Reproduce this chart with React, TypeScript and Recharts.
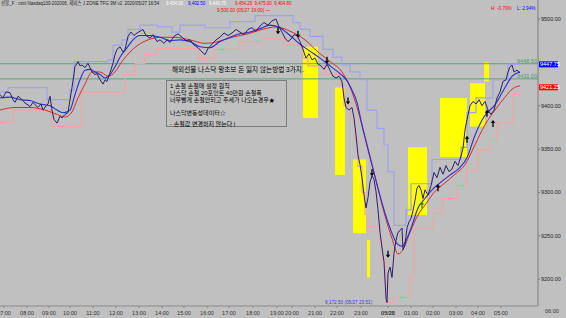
import React from "react";
import {
  ComposedChart,
  Line,
  Scatter,
  XAxis,
  YAxis,
  ReferenceArea,
  ReferenceLine,
} from "recharts";

// x = bar slot on the chart's time axis, p = price
const priceTrace: [number, number][] = [
  [0, 9413], [3, 9409], [6, 9416], [10, 9415], [13, 9407], [15, 9404], [18, 9411], [20, 9409],
  [23, 9406], [25, 9403], [28, 9401], [30, 9399], [33, 9404], [36, 9400], [38, 9398], [41, 9402],
  [43, 9395], [46, 9400], [48, 9402], [50, 9411], [52, 9395], [54, 9384], [57, 9380], [60, 9388],
  [62, 9386], [65, 9390], [68, 9392], [70, 9407], [72, 9421], [75, 9445], [78, 9451], [80, 9446],
  [82, 9447], [85, 9444], [88, 9449], [90, 9444], [92, 9439], [95, 9436], [97, 9437], [100, 9430],
  [103, 9425], [105, 9430], [107, 9428], [110, 9438], [113, 9449], [115, 9459], [117, 9465],
  [120, 9468], [123, 9462], [125, 9465], [128, 9480], [131, 9485], [134, 9481], [137, 9484],
  [140, 9486], [143, 9488], [146, 9481], [150, 9478], [153, 9482], [157, 9474], [160, 9476],
  [164, 9472], [167, 9476], [170, 9473], [174, 9480], [178, 9483], [182, 9479], [186, 9475],
  [190, 9476], [194, 9470], [198, 9467], [202, 9462], [205, 9459], [208, 9466], [212, 9471],
  [216, 9476], [220, 9479], [224, 9484], [228, 9481], [232, 9484], [236, 9488], [240, 9485],
  [244, 9482], [248, 9488], [252, 9490], [256, 9486], [260, 9492], [264, 9496], [268, 9493],
  [272, 9498], [276, 9500], [279, 9491], [282, 9485], [285, 9478], [288, 9474], [291, 9477],
  [294, 9482], [297, 9481], [300, 9474], [303, 9465], [306, 9455], [309, 9460], [312, 9453],
  [315, 9455], [318, 9448], [321, 9446], [324, 9442], [327, 9448], [330, 9441], [333, 9434],
  [336, 9432], [339, 9434], [342, 9428], [344, 9409], [346, 9398], [349, 9395], [352, 9398],
  [354, 9386], [356, 9366], [358, 9343], [360, 9332], [362, 9317], [364, 9297], [366, 9282],
  [368, 9294], [370, 9312], [372, 9319], [374, 9315], [376, 9301], [378, 9280], [380, 9254],
  [382, 9236], [384, 9220], [386, 9178], [387, 9173], [388, 9207], [390, 9214], [392, 9202],
  [394, 9230], [396, 9245], [398, 9254], [400, 9256], [402, 9259], [403, 9234], [405, 9240],
  [407, 9259], [409, 9266], [411, 9270], [413, 9279], [415, 9291], [417, 9305], [419, 9308],
  [421, 9303], [423, 9293], [425, 9303], [428, 9297], [431, 9308], [434, 9323], [437, 9317],
  [440, 9329], [443, 9321], [446, 9331], [449, 9324], [452, 9327], [455, 9336], [458, 9331],
  [461, 9342], [463, 9351], [465, 9372], [467, 9384], [470, 9400], [473, 9405], [476, 9402],
  [479, 9407], [482, 9400], [485, 9405], [488, 9395], [491, 9390], [494, 9395], [497, 9409],
  [500, 9416], [503, 9428], [506, 9430], [508, 9439], [510, 9445], [512, 9447], [514, 9439],
  [517, 9441], [520, 9438],
];

const blueMa: [number, number][] = [
  [0, 9409], [10, 9410], [20, 9407], [30, 9406], [40, 9402], [50, 9400], [57, 9395], [63, 9392],
  [70, 9395], [75, 9413], [80, 9430], [85, 9441], [90, 9442], [95, 9439], [100, 9436], [105, 9432],
  [110, 9436], [115, 9445], [120, 9456], [127, 9467], [133, 9476], [140, 9481], [150, 9481],
  [160, 9479], [170, 9475], [180, 9476], [190, 9474], [200, 9468], [210, 9467], [220, 9474],
  [230, 9479], [240, 9483], [250, 9485], [260, 9489], [270, 9493], [280, 9490], [290, 9481],
  [300, 9471], [310, 9463], [320, 9455], [330, 9446], [340, 9437], [347, 9429], [352, 9418],
  [357, 9404], [362, 9378], [367, 9355], [372, 9332], [377, 9309], [383, 9284], [390, 9259],
  [397, 9241], [402, 9238], [407, 9247], [412, 9262], [418, 9282], [425, 9293], [432, 9303],
  [440, 9311], [450, 9320], [460, 9329], [467, 9340], [475, 9366], [485, 9389], [495, 9401],
  [505, 9421], [512, 9434], [520, 9439],
];

const redMa: [number, number][] = [
  [0, 9395], [15, 9398], [30, 9398], [45, 9395], [55, 9391], [65, 9387], [72, 9393], [78, 9409],
  [85, 9425], [92, 9439], [100, 9439], [108, 9434], [115, 9439], [122, 9451], [130, 9462],
  [138, 9470], [148, 9476], [160, 9479], [175, 9479], [190, 9476], [205, 9472], [218, 9474],
  [232, 9479], [248, 9483], [262, 9488], [276, 9491], [290, 9486], [305, 9476], [318, 9462],
  [330, 9451], [342, 9439], [352, 9416], [360, 9386], [368, 9349], [376, 9314], [384, 9277],
  [392, 9247], [398, 9229], [403, 9234], [410, 9254], [418, 9274], [426, 9287], [434, 9300],
  [445, 9311], [455, 9321], [465, 9332], [475, 9355], [485, 9378], [495, 9395], [505, 9410],
  [513, 9420], [520, 9423],
];

const upperBand: [number, number][] = [
  [0, 9416], [8, 9421], [47, 9407], [70, 9418], [74, 9451], [108, 9453], [113, 9470], [122, 9476],
  [128, 9488], [140, 9493], [158, 9491], [172, 9485], [180, 9493], [205, 9490], [230, 9497],
  [255, 9504], [293, 9496], [300, 9488], [310, 9480], [323, 9465], [333, 9456], [342, 9447],
  [350, 9439], [360, 9430], [367, 9395], [377, 9374], [384, 9355], [388, 9324], [394, 9262],
  [406, 9280], [411, 9310], [432, 9338], [461, 9352], [467, 9392], [476, 9409], [493, 9430],
  [508, 9448], [520, 9448],
];

const lowerBand: [number, number][] = [
  [0, 9381], [13, 9395], [52, 9376], [82, 9416], [125, 9436], [135, 9449], [145, 9459],
  [157, 9466], [198, 9455], [215, 9465], [240, 9474], [262, 9478], [285, 9470], [303, 9455],
  [308, 9446], [325, 9436], [340, 9423], [344, 9400], [350, 9385], [355, 9362], [358, 9330],
  [362, 9300], [365, 9275], [368, 9261], [380, 9245], [382, 9222], [386, 9173], [393, 9179],
  [410, 9203], [414, 9259], [433, 9276], [443, 9293], [457, 9308], [467, 9326], [478, 9349],
  [490, 9361], [497, 9380], [513, 9413], [520, 9413],
];

// signal boxes: x from, x to, top price, bottom price
const signalBoxes: [number, number, number, number][] = [
  [303, 318, 9468, 9386],
  [335, 345, 9421, 9320],
  [353, 366, 9338, 9253],
  [367, 370, 9245, 9202],
  [408, 427, 9352, 9274],
  [440, 467, 9409, 9341],
  [470, 485, 9426, 9376],
  [484, 489, 9450, 9428],
];

const downArrows: [number, number][] = [
  [278, 9486], [298, 9482], [327, 9452], [348, 9405], [372, 9322], [388, 9228],
];
const upArrows: [number, number][] = [
  [438, 9306], [467, 9362], [487, 9392], [493, 9380],
];
const greenArrows: [number, number][] = [[422, 9286]];

const greenLevels = [9448.5, 9431.0];
const lastPrice = 9447.75;
const slowValue = 9421.25;

const timePos = [4, 27, 49, 70, 93, 116, 139, 162, 184, 207, 229, 253, 277, 292, 315, 337, 361, 388, 411, 433, 456, 478, 501];
const timeLabels = [
  "07:00", "08:00", "09:00", "10:00", "11:00", "12:00", "13:00", "14:00", "15:00", "16:00", "17:00", "18:00",
  "19:00", "20:00", "21:00", "22:00", "23:00", "05/28", "01:00", "02:00", "03:00", "04:00", "05:00",
];
const priceTicks = [9200, 9250, 9300, 9350, 9400, 9500];

const BG = "#c0c0c0";
const FONT = '"Liberation Sans", "Noto Sans CJK KR", sans-serif';

const toPts = (arr: [number, number][]) => arr.map(([x, p]) => ({ x, p }));

const DownArrow = (props: any) => {
  const { cx, cy } = props;
  return (
    <g>
      <line x1={cx} y1={cy - 4} x2={cx} y2={cy + 1} stroke="#000" strokeWidth={1.3} />
      <path d={`M${cx - 2.2},${cy} L${cx + 2.2},${cy} L${cx},${cy + 3} Z`} fill="#000" />
    </g>
  );
};

const makeUpArrow = (color: string) => (props: any) => {
  const { cx, cy } = props;
  return (
    <g>
      <line x1={cx} y1={cy - 1} x2={cx} y2={cy + 4} stroke={color} strokeWidth={1.3} />
      <path d={`M${cx - 2.2},${cy} L${cx + 2.2},${cy} L${cx},${cy - 3} Z`} fill={color} />
    </g>
  );
};

const TimeTick = (props: any) => {
  const { x, y, payload } = props;
  const label = timeLabels[timePos.indexOf(payload.value)];
  return (
    <text x={x} y={y + 5} textAnchor="middle" fontSize={5.5} fontFamily={FONT} fill="#333"
      fontWeight={label === "05/28" ? 700 : 400}>
      {label}
    </text>
  );
};

const axisBox = (value: number, color: string) => (props: any) => {
  const { viewBox } = props;
  const x = viewBox.x + viewBox.width + 1;
  const y = viewBox.y;
  return (
    <g>
      <rect x={x} y={y - 3} width={19} height={6} fill={color} />
      <text x={x + 1} y={y + 2} fontSize={5.5} fontFamily={FONT} fill="#fff">
        {value.toFixed(2)}
      </text>
    </g>
  );
};

const txt = (left: number, top: number, color: string, size = 5.5, squeeze = 1): React.CSSProperties => ({
  position: "absolute", left, top, color, fontSize: size, lineHeight: 1, whiteSpace: "nowrap", fontFamily: FONT,
  transform: squeeze !== 1 ? `scaleX(${squeeze})` : undefined, transformOrigin: "left top",
});

const series = [
  { data: upperBand, type: "stepAfter", color: "#a0a0f2", w: 1.2 },
  { data: lowerBand, type: "stepAfter", color: "#f5a3a3", w: 1.2 },
  { data: redMa, type: "monotone", color: "#e02828", w: 1 },
  { data: blueMa, type: "monotone", color: "#2c2cd0", w: 1.1 },
  { data: priceTrace, type: "linear", color: "#2a1f6e", w: 1 },
];

export default function App() {
  return (
    <div style={{ position: "fixed", left: 0, top: 0, width: 566, height: 318, background: BG, overflow: "hidden" }}>
      <ComposedChart width={566} height={318} margin={{ top: 0, right: 0, bottom: 0, left: 0 }}>
        <XAxis
          type="number"
          dataKey="x"
          domain={[0, 538]}
          allowDataOverflow
          ticks={timePos}
          interval={0}
          height={12}
          tick={<TimeTick />}
          tickSize={2}
          stroke="#8a8a8a"
        />
        <YAxis
          orientation="right"
          domain={[9169, 9522]}
          allowDataOverflow
          ticks={priceTicks}
          width={28}
          tickSize={2}
          tickMargin={1}
          tickFormatter={(v: number) => v.toFixed(2)}
          tick={{ fontSize: 5.5, fill: "#222", fontFamily: FONT }}
          stroke="#7a7a7a"
        />
        {signalBoxes.map(([x1, x2, top, bottom], i) => (
          <ReferenceArea key={i} x1={x1} x2={x2} y1={bottom} y2={top} fill="#ffff00" fillOpacity={1} stroke="none" />
        ))}
        {greenLevels.map((v) => (
          <ReferenceLine key={v} y={v} stroke="#5ba37f" strokeWidth={1}
            label={{ value: v.toFixed(2), position: "insideBottomRight", offset: 1, fill: "#4f9a70", fontSize: 5.5, fontFamily: FONT }} />
        ))}
        <ReferenceLine y={lastPrice} stroke="none" label={axisBox(lastPrice, "#0000ff")} />
        <ReferenceLine y={slowValue} stroke="none" label={axisBox(slowValue, "#ff0000")} />
        {series.map((s, i) => (
          <Line key={i} data={toPts(s.data)} dataKey="p" type={s.type as any} stroke={s.color} strokeWidth={s.w}
            dot={false} activeDot={false} isAnimationActive={false} />
        ))}
        <Scatter data={toPts(downArrows)} dataKey="p" shape={DownArrow} isAnimationActive={false} />
        <Scatter data={toPts(upArrows)} dataKey="p" shape={makeUpArrow("#000")} isAnimationActive={false} />
        <Scatter data={toPts(greenArrows)} dataKey="p" shape={makeUpArrow("#1f8a2a")} isAnimationActive={false} />
      </ComposedChart>

      <div style={txt(1, 1, "#222", 5.2, 0.86)}>선물_F : mini Nasdaq100-202006, 제외스 J ZONE TFG 3M v2&nbsp; 2020/05/27 16:54</div>
      <div style={txt(166, 1, "#ffffff", 5.2, 0.85)}>9,454.00</div>
      <div style={txt(188, 1, "#0000ff", 5.2, 0.85)}>9,402.50</div>
      <div style={txt(209, 1, "#ffffff", 5.2, 0.85)}>9,440.75</div>
      <div style={txt(235, 1, "#ff0000", 5.2, 0.85)}>9,454.25 &nbsp;9,475.00&nbsp; 9,404.80</div>
      <div style={txt(217, 8, "#ff0000", 5.2, 0.9)}>9,500.00 (05/27 19:00) —</div>
      <div style={txt(491, 6, "#ff0000", 5.2, 0.9)}>H: -0.70%</div>
      <div style={txt(517, 6, "#0000ff", 5.2, 0.9)}>L: 2.94%</div>
      <div style={txt(325, 300, "#3a3ad0", 5.2, 0.9)}>9,172.50 (05/27 23:51)</div>
      <div style={txt(545, 309, "#333")}>06:00</div>

      <div style={txt(172, 67, "#000", 6.6)}>해외선물 나스닥 왕초보 돈 잃지 않는방법 3가지.</div>
      <div style={{ position: "absolute", left: 166, top: 80, width: 121, height: 47, border: "1px solid #7c7c7c", boxSizing: "border-box" }}>
        <div style={txt(3, 2, "#000", 6)}>1 손절 손절매 설정 원칙</div>
        <div style={txt(3, 9, "#000", 6)}>나스닥 손절 20포인트 40만원 손절폭</div>
        <div style={txt(3, 16, "#000", 6)}>너무빨게 손절안되고 추세가 나오는경우★</div>
        <div style={txt(3, 29, "#000", 6)}>나스닥변동성데이터☆</div>
        <div style={txt(3, 40, "#000", 6)}>- 손절값 변경하지 않는다 |</div>
      </div>
    </div>
  );
}
